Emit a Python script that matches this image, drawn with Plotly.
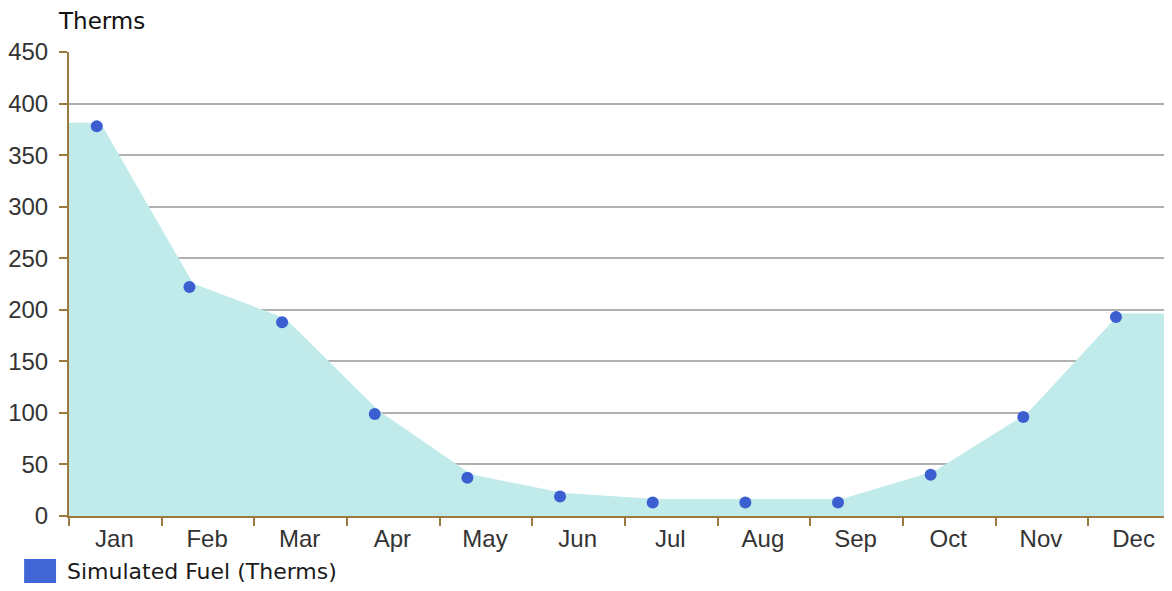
import plotly.graph_objects as go

months = ["Jan", "Feb", "Mar", "Apr", "May", "Jun", "Jul", "Aug", "Sep", "Oct", "Nov", "Dec"]
fuel_therms = [378, 222, 188, 99, 37, 19, 13, 13, 13, 40, 96, 193]
y_ticks = [0, 50, 100, 150, 200, 250, 300, 350, 400, 450]

# page has an 8px body margin; the figure starts 8px in from the window corner
OFF = 8
W, H = 1172 - OFF, 591 - 2 * OFF
L, R, T = 66 - OFF, 0, 52 - OFF
B = H - (516 - OFF)
XMAX = 11.905          # visible part of the 12-slot category axis (right side cropped)
MARK_OFF = 0.30        # marker offset inside each slot
AREA_OFF = 0.34        # area vertex offset inside each slot
LABEL_OFF = 0.49
Y_SHIFT = 3.4          # area drawn a few px above the markers

BROWN = "#9a7a3e"
GRID = "#b0b0b0"
FILL = "#c0ebea"
BLUE = "#3b5fd0"
TXT = "#333333"
FONT = "DejaVu Sans"
TICKFONT = "Liberation Sans"

n = len(months)
mark_x = [i + MARK_OFF for i in range(n)]
area_x = [0] + [i + AREA_OFF for i in range(n)] + [XMAX, XMAX, 0]
area_y = [fuel_therms[0]] + fuel_therms + [fuel_therms[-1], -Y_SHIFT, -Y_SHIFT]

fig = go.Figure()
fig.add_trace(go.Scatter(
    x=area_x, y=area_y, xaxis="x", yaxis="y",
    mode="lines", line=dict(width=0, color=FILL),
    fill="toself", fillcolor=FILL, hoverinfo="skip", showlegend=False,
))
fig.add_trace(go.Scatter(
    x=mark_x, y=fuel_therms, xaxis="x", yaxis="y2", mode="markers",
    marker=dict(symbol="circle", size=12, color=BLUE),
    name="Simulated Fuel (Therms)", showlegend=False,
))

fig.update_layout(
    width=W, height=H,
    margin=dict(l=L, r=R, t=T, b=B),
    paper_bgcolor="white", plot_bgcolor="white",
    font=dict(family=FONT, size=22, color=TXT),
    xaxis=dict(
        range=[0, XMAX], showgrid=False, zeroline=False,
        showline=True, linecolor=BROWN, linewidth=2,
        tickmode="array",
        tickvals=[i + LABEL_OFF for i in range(n)], ticktext=months,
        ticks="", tickfont=dict(family=TICKFONT, size=24, color=TXT),
        minor=dict(tickmode="array", tickvals=list(range(n + 1)),
                   ticks="outside", ticklen=8, tickwidth=2, tickcolor=BROWN,
                   showgrid=False),
    ),
    yaxis=dict(range=[-Y_SHIFT, 450 - Y_SHIFT], visible=False, showgrid=False),
    yaxis2=dict(
        overlaying="y", side="left",
        range=[0, 450], tickmode="array", tickvals=y_ticks,
        showgrid=True, gridcolor=GRID, gridwidth=2, zeroline=False,
        showline=True, linecolor=BROWN, linewidth=2,
        ticks="outside", ticklen=8, tickwidth=2, tickcolor=BROWN,
        ticklabelstandoff=6,
        tickfont=dict(family=TICKFONT, size=24, color=TXT),
    ),
    showlegend=False,
)

pw, ph = W - L - R, H - T - B

def px(x):
    return (x - OFF - L) / pw

def py(y):
    return (H - B - (y - OFF)) / ph

# Axis title "Therms"
fig.add_annotation(
    x=px(53), y=py(21), xref="paper", yref="paper",
    xanchor="left", yanchor="middle",
    text="Therms", showarrow=False,
    font=dict(family=FONT, size=23, color="#111111"),
)

# Legend swatch + label
fig.add_shape(
    type="rect", xref="paper", yref="paper",
    x0=px(21), x1=px(53), y0=py(559), y1=py(591),
    fillcolor="#4166d5", line=dict(width=0),
)
fig.add_annotation(
    x=px(62), y=py(571), xref="paper", yref="paper",
    xanchor="left", yanchor="middle",
    text="Simulated Fuel (Therms)", showarrow=False,
    font=dict(family=FONT, size=22, color="#1a1a1a"),
)

fig.write_html("out.html")
